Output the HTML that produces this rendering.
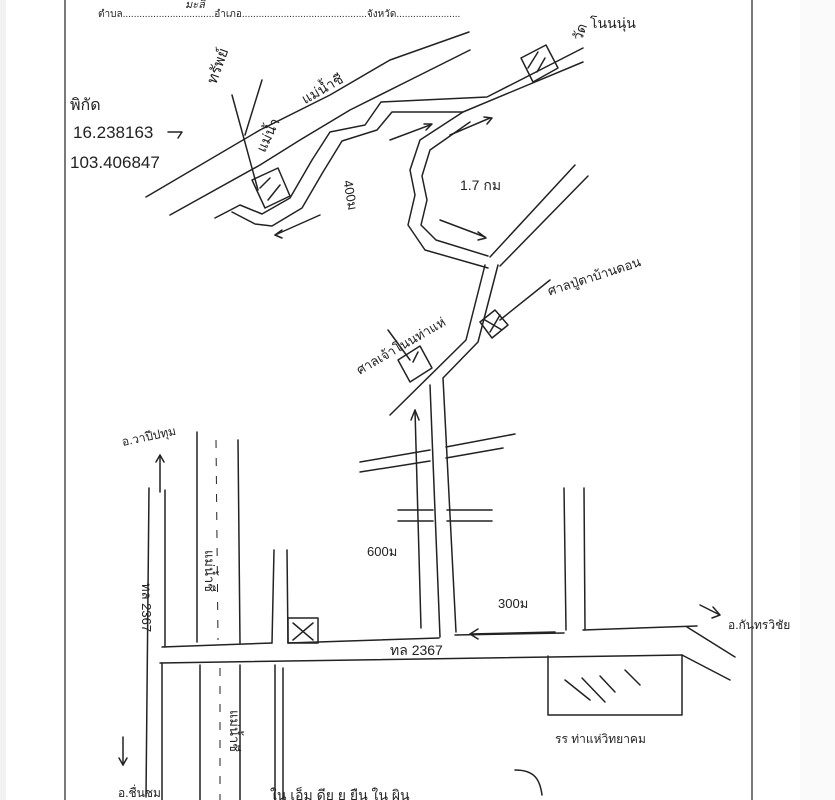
<!DOCTYPE html>
<html><head><meta charset="utf-8"><style>
html,body{margin:0;padding:0;background:#fff;}
body{width:835px;height:800px;overflow:hidden;position:relative;}
svg{position:absolute;left:0;top:0;}
text{font-family:"Liberation Sans","Noto Sans CJK SC",sans-serif;fill:#222;}
</style></head><body>
<svg width="835" height="800" viewBox="0 0 835 800" xmlns="http://www.w3.org/2000/svg">
<rect x="0" y="0" width="6" height="800" fill="#f2f2f2"/>
<rect x="800" y="0" width="35" height="800" fill="#fafafa"/>
<g stroke="#222" stroke-width="1.2" fill="none">
<line x1="65" y1="0" x2="65" y2="800"/>
<line x1="752" y1="0" x2="752" y2="800"/>
</g>
<text x="98" y="17" font-size="10">ตำบล.................................อำเภอ.............................................จังหวัด.......................</text>
<text x="185" y="8" font-size="11" font-style="italic">มะลิ</text>
<g stroke="#222" stroke-width="1.5" fill="none" stroke-linejoin="round" stroke-linecap="round">
<path d="M146,197 L260,130 L330,95 L390,60 L469,32"/>
<path d="M170,215 L260,165 L300,140 L350,110 L410,80 L470,50"/>
<path d="M245,135 L262,80"/>
<path d="M583,48 L487,97 L381,102 L365,125 L330,132 L312,160 L290,198 L262,214 L240,205 L215,218"/>
<path d="M583,62 L463,112 L392,112 L377,130 L342,141 L323,172 L302,208 L272,226 L255,224 L232,212"/>
<path d="M463,112 L420,140 L410,170 L415,195 L408,225 L425,250 L488,268"/>
<path d="M470,122 L430,150 L422,176 L427,200 L421,225 L436,240 L488,256"/>
<path d="M575,165 L490,257"/>
<path d="M588,176 L500,266"/>
<path d="M485,265 L466,340 L390,415"/>
<path d="M498,265 L478,342 L443,378 L456,632"/>
<path d="M430,385 L440,637"/>
<path d="M360,462 L430,450"/><path d="M446,447 L515,434"/>
<path d="M360,472 L430,461"/><path d="M446,458 L503,448"/>
<path d="M398,510 L433,510"/><path d="M447,510 L492,510"/>
<path d="M398,521 L433,521"/><path d="M447,521 L492,521"/>
<path d="M162,647 L272,643"/><path d="M288,643 L439,638"/><path d="M455,635 L564,633"/><path d="M583,630 L697,626"/>
<path d="M160,663 L682,655"/>
<path d="M682,655 L730,680"/><path d="M687,627 L735,657"/>
<path d="M149,488 L146,797"/><path d="M165,490 L165,647"/><path d="M162,663 L162,800"/>
<path d="M197,432 L197,642"/><path d="M238,440 L240,643"/>
<path d="M200,665 L200,800"/><path d="M240,665 L240,800"/>
<path d="M274,550 L272,643"/><path d="M287,550 L288,643"/>
<path d="M275,665 L275,800"/><path d="M283,668 L283,800"/>
<path d="M564,488 L566,630"/><path d="M584,488 L585,630"/>
<path d="M548,656 L548,715 L682,715 L682,655"/>
<path d="M565,680 L590,700 M582,678 L605,702 M600,676 L615,692 M625,670 L640,685"/>
<rect x="288" y="618" width="30" height="25"/><path d="M293,623 L313,640 M313,623 L293,640"/>
<path d="M521,58 L546,45 L558,68 L533,82 Z M528,68 L538,52 M537,72 L545,58"/>
<path d="M398,360 L420,346 L432,368 L410,382 Z M413,362 L418,352"/>
<path d="M480,322 L495,310 L508,325 L492,338 Z M485,320 L502,330 M490,332 L500,315"/>
<path d="M252,180 L278,168 L290,196 L265,208 Z M260,188 L270,178 M268,200 L280,185"/>
<path d="M232,95 L258,190"/><path d="M388,330 L410,360"/><path d="M500,320 L550,280"/>
<path d="M415,410 L421,628"/><path d="M411,420 L415,410 L419,420"/>
<path d="M470,634 L555,632"/><path d="M478,629 L470,634 L478,639"/>
<path d="M160,492 L160,455"/><path d="M156,462 L160,455 L164,462"/>
<path d="M123,737 L123,765"/><path d="M119,758 L123,765 L127,758"/>
<path d="M700,605 L720,615 M713,607 L720,615 L712,618"/>
<path d="M390,140 L430,125"/><path d="M424,124 L432,124 L426,130"/>
<path d="M450,135 L490,118"/><path d="M484,117 L492,118 L487,124"/>
<path d="M440,220 L485,237"/><path d="M478,232 L486,238 L478,240"/>
<path d="M275,235 L320,215"/><path d="M282,230 L275,235 L282,238"/>
<path d="M168,132 L182,132 L178,138"/>
<path d="M515,770 C535,770 540,780 542,795"/>
</g>
<g stroke="#222" stroke-width="1" fill="none" stroke-dasharray="8,10">
<path d="M216,440 L218,640"/><path d="M220,668 L220,800"/>
</g>
<text x="70" y="110" font-size="16">พิกัด</text>
<text x="73" y="138" font-size="17">16.238163</text>
<text x="70" y="168" font-size="17">103.406847</text>
<text x="200" y="82" font-size="15" transform="rotate(-70 210 72)">ทรัพย์</text>
<text x="250" y="150" font-size="14" transform="rotate(-65 260 140)">แม่น้ำ</text>
<text x="300" y="95" font-size="14" transform="rotate(-30 320 90)">แม่น้ำชี</text>
<text x="340" y="195" font-size="13" transform="rotate(80 350 190)">400ม</text>
<text x="460" y="190" font-size="14">1.7 กม</text>
<text x="565" y="32" font-size="14" transform="rotate(-70 580 25)">วัด</text>
<text x="590" y="28" font-size="14">โนนนุ่น</text>
<text x="545" y="282" font-size="13" transform="rotate(-18 590 275)">ศาลปู่ตาบ้านดอน</text>
<text x="345" y="360" font-size="13" transform="rotate(-30 380 340)">ศาลเจ้าโนนท่าแห่</text>
<text x="120" y="440" font-size="12" transform="rotate(-12 150 430)">อ.วาปีปทุม</text>
<text x="145" y="600" font-size="13" transform="rotate(90 152 590)">ทล 2367</text>
<text x="205" y="570" font-size="13" transform="rotate(90 215 560)">แม่น้ำชี</text>
<text x="200" y="700" font-size="13" transform="rotate(90 210 720)">แม่น้ำชี</text>
<text x="367" y="556" font-size="13">600ม</text>
<text x="498" y="608" font-size="13">300ม</text>
<text x="390" y="655" font-size="14">ทล 2367</text>
<text x="728" y="629" font-size="12">อ.กันทรวิชัย</text>
<text x="555" y="743" font-size="12">รร ท่าแห่วิทยาคม</text>
<text x="118" y="797" font-size="12">อ.ชื่นชม</text>
<text x="270" y="800" font-size="14">ใน เอ็ม ดีย ย ยืน ใน ผิน</text>
</svg>
</body></html>
